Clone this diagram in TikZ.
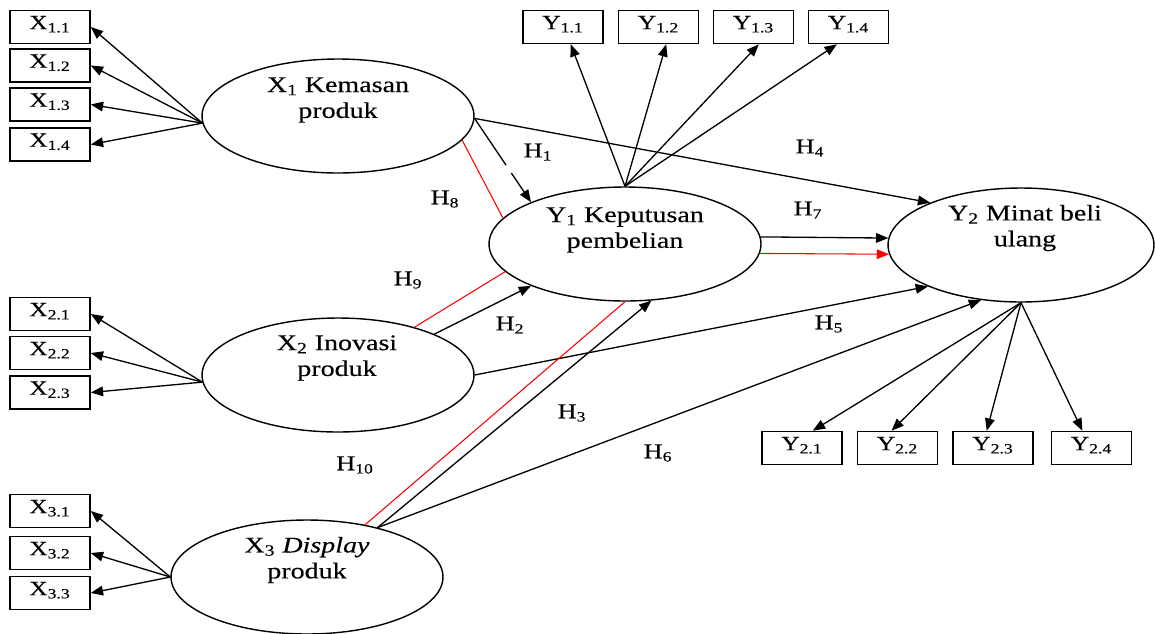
\documentclass[tikz,border=0pt]{standalone}
\usepackage{fontspec}
\setmainfont{Liberation Serif}[FakeStretch=1.25,FakeBold=0.3]
\usetikzlibrary{shapes.geometric,arrows.meta}
\tikzset{latent/.style={draw,ellipse,line width=0.8pt,minimum width=5.44cm,minimum height=2.28cm,inner sep=0pt},
 indic/.style={draw,line width=0.9pt,minimum width=1.6cm,minimum height=0.66cm,inner sep=0pt,
  text height=7.5pt,text depth=5pt,font=\fontsize{11.5}{13}\selectfont},
 lbl/.style={align=center,font=\fontsize{12.75}{14.7}\selectfont},
 hlbl/.style={font=\fontsize{12}{14}\selectfont},
 hyp/.style={line width=0.75pt,-{Triangle[length=7pt,width=5.5pt]}},
 redhyp/.style={red,line width=0.6pt},
 }

\begin{document}
\begin{tikzpicture}[x=0.02cm,y=-0.02cm]
        \useasboundingbox (0,0) rectangle (1155,633);
        % latent variables
        \node[latent] (X1) at (338,116) {};
        \node[latent] (X2) at (338,375) {};
        \node[latent] (X3) at (307,577) {};
        \node[latent] (Y1) at (625,244) {};
        \node[latent,minimum width=5.32cm] (Y2) at (1021,245) {};
        \node[lbl] (X1t) at (338,100) {X\textsubscript{1} Kemasan\\produk};
        \node[lbl] (X2t) at (337,358) {X\textsubscript{2} Inovasi\\produk};
        \node[lbl] (X3t) at (307,560) {X\textsubscript{3} \textit{Display}\\produk};
        \node[lbl] (Y1t) at (625,230) {Y\textsubscript{1} Keputusan\\pembelian};
        \node[lbl] (Y2t) at (1025,228) {Y\textsubscript{2} Minat beli\\ulang};
        % indicators
        \node[indic] (X11) at (50,27) {X\textsubscript{1.1}};
        \node[indic] (X12) at (50,65.5) {X\textsubscript{1.2}};
        \node[indic] (X13) at (50,104.5) {X\textsubscript{1.3}};
        \node[indic] (X14) at (50,144.5) {X\textsubscript{1.4}};
        \node[indic] (X21) at (50,314) {X\textsubscript{2.1}};
        \node[indic] (X22) at (50,353) {X\textsubscript{2.2}};
        \node[indic] (X23) at (50,392.5) {X\textsubscript{2.3}};
        \node[indic] (X31) at (50,511) {X\textsubscript{3.1}};
        \node[indic] (X32) at (50,553) {X\textsubscript{3.2}};
        \node[indic] (X33) at (50,593) {X\textsubscript{3.3}};
        \node[indic] (Y11) at (563,27) {Y\textsubscript{1.1}};
        \node[indic] (Y12) at (658.5,27) {Y\textsubscript{1.2}};
        \node[indic] (Y13) at (753.5,27) {Y\textsubscript{1.3}};
        \node[indic] (Y14) at (848.5,27) {Y\textsubscript{1.4}};
        \node[indic] (Y21) at (802,448) {Y\textsubscript{2.1}};
        \node[indic] (Y22) at (897.5,448) {Y\textsubscript{2.2}};
        \node[indic] (Y23) at (993,448) {Y\textsubscript{2.3}};
        \node[indic] (Y24) at (1091.5,448) {Y\textsubscript{2.4}};
        % loadings
        \draw[hyp] (X1.183) -- (X11.east);
        \draw[hyp] (X1.183) -- (X12.east);
        \draw[hyp] (X1.183) -- (X13.east);
        \draw[hyp] (X1.183) -- (X14.east);
        \draw[hyp] (X2.183) -- (X21.east);
        \draw[hyp] (X2.183) -- (X22.east);
        \draw[hyp] (X2.183) -- (X23.east);
        \draw[hyp] (X3.west) -- (X31.east);
        \draw[hyp] (X3.west) -- (X32.east);
        \draw[hyp] (X3.west) -- (X33.east);
        \draw[hyp] (Y1.north) -- (Y11.-66);
        \draw[hyp] (Y1.north) -- (Y12.-66);
        \draw[hyp] (Y1.north) -- (Y13.-73);
        \draw[hyp] (Y1.north) -- (Y14.-124);
        \draw[hyp] (Y2.south) -- (Y21.58);
        \draw[hyp] (Y2.south) -- (Y22.109);
        \draw[hyp] (Y2.south) -- (Y23.110);
        \draw[hyp] (Y2.south) -- (Y24.118);
        % hypotheses
        \draw[hyp,dash pattern=on 1.13cm off 0.19cm on 2cm] (X1.-1) -- (Y1.156.7);
        \draw[hyp] (X1.-1) -- (Y2.155.9);
        \draw[hyp] (X2.23) -- (Y1.204.4);
        \draw[hyp] (X2.0) -- (Y2.204.1);
        \draw[hyp] (X3.35.2) -- (Y1.-65);
        \draw[hyp] (X3.35.2) -- (Y2.234.3);
        \draw[hyp] (Y1.3) -- (Y2.177);
        \draw[redhyp] (X1.-11) -- (Y1.168);
        \draw[redhyp] (X2.32.6) -- (Y1.193.3);
        \draw[redhyp] (X3.42) -- (Y1.-90);
        \draw[redhyp,-{Triangle[length=7pt,width=5.5pt]}] (Y1.-4.6) -- (Y2.184.3);
        \node[hlbl] (h1) at (538,152) {H\textsubscript{1}};
        \node[hlbl] (h2) at (510,325) {H\textsubscript{2}};
        \node[hlbl] (h3) at (572,413) {H\textsubscript{3}};
        \node[hlbl] (h4) at (810,148) {H\textsubscript{4}};
        \node[hlbl] (h5) at (829,324) {H\textsubscript{5}};
        \node[hlbl] (h6) at (658,453) {H\textsubscript{6}};
        \node[hlbl] (h7) at (808,210) {H\textsubscript{7}};
        \node[hlbl] (h8) at (445,199) {H\textsubscript{8}};
        \node[hlbl] (h9) at (408,280) {H\textsubscript{9}};
        \node[hlbl] (h10) at (355,465) {H\textsubscript{10}};
    \end{tikzpicture}
\end{document}
